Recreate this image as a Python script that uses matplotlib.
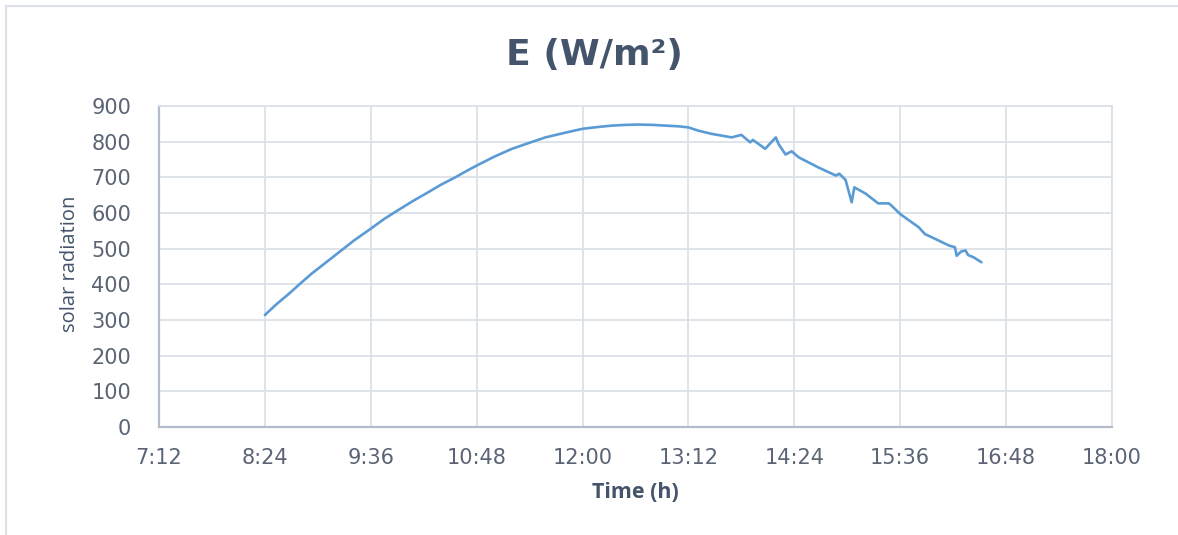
import matplotlib
matplotlib.use("Agg")
import matplotlib.pyplot as plt
from matplotlib.lines import Line2D
from matplotlib.ticker import FixedLocator

# ---- data (time in decimal hours, solar radiation in W/m2) ----
time_h = [8.40, 8.53, 8.67, 8.80, 8.93, 9.08, 9.23, 9.41, 9.60, 9.75,
          9.91, 10.08, 10.25, 10.40, 10.55, 10.68, 10.80, 11.00, 11.20,
          11.40, 11.58, 11.80, 12.00, 12.17, 12.33, 12.48, 12.63, 12.80,
          12.94, 13.09, 13.20, 13.31, 13.46, 13.69, 13.80, 13.90, 13.93,
          14.07, 14.19, 14.22, 14.30, 14.37, 14.45, 14.67, 14.87, 14.91,
          14.98, 15.05, 15.08, 15.21, 15.35, 15.47, 15.50, 15.60, 15.81,
          15.88, 16.00, 16.15, 16.22, 16.24, 16.29, 16.34, 16.37, 16.43,
          16.52]
radiation = [314, 344, 373, 402, 430, 459, 488, 523, 556, 583,
             608, 634, 658, 680, 699, 717, 733, 758, 780,
             797, 812, 825, 836, 841, 845, 847, 848, 847,
             845, 843, 840, 831, 822, 812, 819, 798, 805,
             780, 812, 794, 764, 773, 756, 728, 705, 710,
             693, 630, 672, 654, 627, 627, 621, 597, 560,
             541, 527, 509, 504, 480, 492, 495, 482, 476,
             462]

x_ticks = [7.2, 8.4, 9.6, 10.8, 12.0, 13.2, 14.4, 15.6, 16.8, 18.0]
x_tick_labels = ["7:12", "8:24", "9:36", "10:48", "12:00", "13:12",
                 "14:24", "15:36", "16:48", "18:00"]
y_ticks = [0, 100, 200, 300, 400, 500, 600, 700, 800, 900]

title = "E (W/m²)"
x_label = "Time (h)"
y_label = "solar radiation"

# ---- style ----
LINE = "#5B9BD5"
GRID = "#DCE1E8"
SPINE = "#B3BCC8"
TXT = "#5A6474"
TITLE = "#44546A"

fig = plt.figure(figsize=(11.78, 5.35), dpi=100)
ax = fig.add_axes([159 / 1178, 1 - 427 / 535, (1112 - 159) / 1178, (427 - 106) / 535])

ax.plot(time_h, radiation, color=LINE, lw=1.9, zorder=3,
        solid_joinstyle="round", solid_capstyle="round")

ax.set_xlim(x_ticks[0], x_ticks[-1])
ax.set_ylim(y_ticks[0], y_ticks[-1])
ax.xaxis.set_major_locator(FixedLocator(x_ticks))
ax.set_xticklabels(x_tick_labels)
ax.yaxis.set_major_locator(FixedLocator(y_ticks))

ax.grid(True, color=GRID, lw=1.3, zorder=0)
ax.set_axisbelow(True)
for s in ["top", "right"]:
    ax.spines[s].set_color(GRID)
    ax.spines[s].set_linewidth(1.3)
for s in ["left", "bottom"]:
    ax.spines[s].set_color(SPINE)
    ax.spines[s].set_linewidth(1.6)

ax.tick_params(axis="x", length=0, pad=15, labelsize=15, labelcolor=TXT,
               labelfontfamily="DejaVu Sans")
ax.tick_params(axis="y", length=0, pad=20, labelsize=15, labelcolor=TXT,
               labelfontfamily="DejaVu Sans")

fig.text(594 / 1178, 1 - 55 / 535, title, ha="center", va="center",
         fontsize=26, fontweight="bold", color=TITLE, family="DejaVu Sans")
fig.text(635 / 1178, 1 - 492 / 535, x_label, ha="center", va="center",
         fontsize=15.5, fontweight="bold", color=TITLE, family="Open Sans")
fig.text(70 / 1178, 1 - 264 / 535, y_label, ha="center", va="center",
         rotation=90, fontsize=14.5, color=TITLE, family="Open Sans")

# figure border (top & left)
fig.add_artist(Line2D([6 / 1178, 1], [1 - 6 / 535, 1 - 6 / 535], color="#DDE2EA", lw=1.5))
fig.add_artist(Line2D([6 / 1178, 6 / 1178], [0, 1 - 6 / 535], color="#DDE2EA", lw=1.5))

fig.savefig("out.png", dpi=100, facecolor="white")
